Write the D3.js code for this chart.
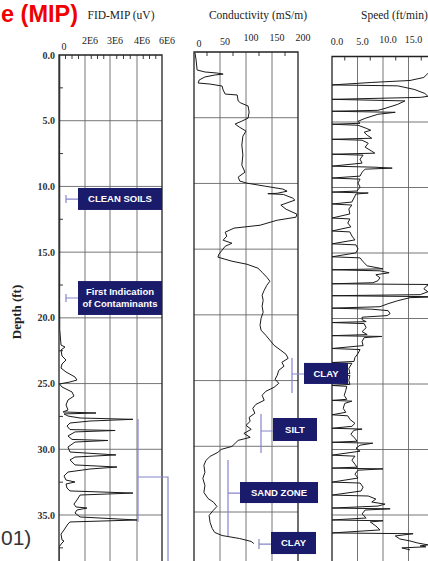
<!DOCTYPE html>
<html><head><meta charset="utf-8">
<script src="https://cdn.jsdelivr.net/npm/d3@7"></script>
<style>
html,body{margin:0;padding:0;background:#fff;}
svg{display:block;}
</style></head><body>
<svg id="chart" width="428" height="561"></svg>
<script>
// ---- data ----
const depthTicks = [0, 5, 10, 15, 20, 25, 30, 35];
const depthTickLabels = ["0.0", "5.0", "10.0", "15.0", "20.0", "25.0", "30.0", "35.0"];
const fidTicks = [0, 2e6, 3e6, 4e6, 6e6];
const fidTickLabels = ["0", "2E6", "3E6", "4E6", "6E6"];
const condTicks = [0, 50, 100, 150, 200];
const condTickLabels = ["0", "50", "100", "150", "200"];
const speedTicks = [0, 5, 10, 15, 20];
const speedTickLabels = ["0.0", "5.0", "10.0", "15.0"];

// [depth ft, FID response uV]
const fidData = [
  [0, 60000], [3.4, 60000], [7.2, 50000], [11.0, 60000], [14.8, 60000], [18.6, 50000],
  [20.9, 60000], [22.07, 154000], [22.22, 460000], [22.45, 154000], [22.9, 231000],
  [23.21, 540000], [23.51, 231000], [23.82, 154000], [24.12, 540000], [24.5, 1230000],
  [24.73, 1380000], [24.88, 846000], [25.03, 40000], [25.26, 231000], [25.64, 1000000],
  [25.95, 1150000], [26.25, 690000], [26.63, 540000], [27.01, 690000], [27.16, 310000],
  [27.24, 2440000], [27.31, 385000], [27.47, 690000], [27.62, 1620000], [27.72, 3850000],
  [27.85, 2200000], [28.0, 846000], [28.23, 615000], [28.5, 846000], [28.57, 3190000],
  [28.68, 1230000], [28.99, 690000], [29.25, 1000000], [29.33, 2920000], [29.45, 1230000],
  [29.83, 690000], [30.21, 846000], [30.43, 3220000], [30.59, 1230000], [30.81, 846000],
  [31.19, 1230000], [31.35, 3260000], [31.5, 2200000], [31.73, 690000], [32.03, 385000],
  [32.34, 540000], [32.49, 1230000], [32.64, 540000], [32.95, 615000], [33.17, 846000],
  [33.33, 3850000], [33.48, 1620000], [33.86, 1380000], [34.17, 1150000], [34.39, 1310000],
  [34.47, 2080000], [34.62, 1380000], [34.85, 1230000], [35.15, 1620000], [35.38, 4000000],
  [35.53, 846000], [35.68, 692000], [36.14, 385000], [36.45, 154000], [36.9, 231000],
  [36.98, 385000], [37.13, 231000], [37.43, 0], [38.6, 0]
];

// [depth ft, conductivity mS/m]
const condData = [
  [0.08, 2], [0.61, 4], [1.37, 6], [1.52, 21], [1.60, 44], [1.68, 56], [1.75, 40],
  [1.90, 21], [2.13, 10], [2.36, 8], [2.44, 31], [2.59, 54], [2.89, 56], [3.20, 60],
  [3.27, 83], [3.73, 85], [3.88, 90], [4.11, 104], [4.57, 106], [5.03, 104], [5.26, 92],
  [5.48, 79], [5.71, 87], [6.02, 100], [6.40, 94], [7.08, 92], [7.84, 94], [8.61, 92],
  [9.14, 98], [9.52, 85], [9.82, 88], [9.98, 102], [10.21, 137], [10.43, 171],
  [10.59, 179], [10.75, 160], [10.78, 142], [10.84, 172], [11.12, 190], [11.27, 194],
  [11.65, 167], [11.96, 177], [12.34, 198], [12.57, 196], [12.80, 160], [13.18, 127],
  [13.40, 77], [13.71, 60], [14.01, 63], [14.32, 56], [14.55, 73], [14.78, 60],
  [15.08, 54], [15.38, 48], [15.61, 46], [15.92, 73], [16.15, 102], [16.45, 123],
  [16.76, 131], [17.14, 140], [17.44, 146], [17.75, 140], [18.13, 135], [18.51, 131],
  [18.89, 133], [19.34, 131], [19.80, 133], [20.26, 129], [20.79, 127], [21.17, 129],
  [21.55, 138], [21.93, 146], [22.32, 154], [22.70, 167], [23.00, 177], [23.31, 181],
  [23.61, 169], [23.91, 173], [24.22, 163], [24.60, 160], [24.90, 156], [25.21, 163],
  [25.51, 154], [25.82, 138], [26.12, 131], [26.50, 135], [26.81, 119], [27.11, 113],
  [27.49, 117], [27.80, 106], [28.10, 108], [28.41, 100], [28.71, 110], [29.02, 96],
  [29.32, 108], [29.55, 85], [29.78, 79], [30.01, 73], [30.24, 52], [30.46, 46],
  [30.77, 31], [31.07, 23], [31.45, 19], [31.99, 21], [32.44, 17], [32.98, 21],
  [33.51, 19], [33.97, 27], [34.27, 38], [34.58, 44], [34.88, 37], [35.26, 29],
  [35.80, 31], [36.25, 35], [36.56, 40], [36.79, 54], [37.02, 88], [37.24, 110], [37.40, 115]
];

// [depth ft, push speed ft/min]
const speedData = [
  [0.15, 21.2], [0.99, 20.4], [1.29, 18.8], [1.60, 18.0], [1.83, 15.3], [1.98, 7.8],
  [2.17, 0], [2.24, 12.9], [2.36, 14.3], [2.51, 16.1], [2.82, 18.2], [3.04, 18.8],
  [3.12, 17.3], [3.27, 0], [3.39, 14.3], [3.65, 12.9], [3.96, 10.4], [4.11, 9.0],
  [4.18, 0], [4.26, 12.4], [4.41, 9.0], [4.72, 6.5], [4.95, 5.1], [5.10, 5.5],
  [5.17, 0], [5.25, 5.1], [5.48, 6.7], [5.63, 7.6], [5.78, 6.3], [6.01, 6.9], [6.24, 7.8],
  [6.32, 0], [6.39, 5.9], [6.62, 7.1], [6.92, 6.5], [7.23, 7.8], [7.38, 8.4],
  [7.46, 0], [7.53, 6.1], [7.84, 5.5], [8.14, 5.9],
  [8.37, 0], [8.45, 8.4], [8.52, 11.8], [8.60, 6.5], [8.83, 5.9], [9.13, 5.5],
  [9.28, 0], [9.36, 5.5], [9.66, 5.1], [9.97, 5.5], [10.27, 4.9],
  [10.35, 0], [10.42, 7.1], [10.50, 4.7], [10.80, 4.3], [11.11, 3.9],
  [11.26, 0], [11.34, 3.9], [11.64, 3.3], [12.02, 3.5],
  [12.33, 0], [12.40, 3.5], [12.71, 3.1], [13.01, 3.7],
  [13.32, 0], [13.39, 3.5], [13.70, 3.9], [14.00, 4.5],
  [14.30, 0], [14.38, 4.7], [14.68, 5.1], [14.99, 4.7],
  [15.29, 0], [15.37, 5.5], [15.67, 6.1], [15.98, 6.9], [16.21, 10.0],
  [16.28, 0], [16.36, 9.4], [16.51, 11.2], [16.66, 8.6], [16.89, 9.4], [17.12, 9.0], [17.27, 8.0],
  [17.35, 0], [17.41, 21.2], [17.50, 18.6], [17.73, 18.0], [17.96, 18.8], [18.18, 17.3],
  [18.26, 0], [18.34, 21.2], [18.41, 15.3], [18.64, 12.9], [18.87, 11.0], [19.10, 9.4],
  [19.21, 0], [19.29, 7.8], [19.40, 11.0], [19.63, 11.4], [19.78, 10.8], [19.90, 5.9],
  [20.09, 5.9], [20.24, 6.7],
  [20.31, 0], [20.39, 6.3], [20.70, 6.7], [21.00, 5.9], [21.23, 6.9],
  [21.31, 0], [21.37, 9.8], [21.46, 6.3], [21.76, 5.9], [22.07, 6.1],
  [22.29, 0], [22.37, 5.5], [22.67, 5.1], [22.98, 4.5], [23.28, 4.3],
  [23.36, 0], [23.43, 3.9], [23.81, 3.3], [24.20, 3.5],
  [24.27, 0], [24.35, 3.5], [24.73, 3.3], [25.03, 3.5],
  [25.11, 0], [25.18, 2.9], [25.49, 2.7], [25.87, 2.4], [26.17, 2.9],
  [26.25, 0], [26.31, 3.9], [26.48, 2.5], [26.86, 2.2], [27.16, 2.7],
  [27.35, 0], [27.43, 3.1], [27.70, 3.5], [28.00, 4.5], [28.23, 3.9],
  [28.38, 0], [28.44, 5.9], [28.53, 4.3], [28.84, 3.7], [29.14, 4.5], [29.37, 4.9],
  [29.45, 0], [29.52, 8.0], [29.67, 5.5], [29.90, 4.7], [30.13, 5.5],
  [30.43, 0], [30.51, 4.5], [30.81, 3.9], [31.12, 4.5], [31.35, 4.9],
  [31.42, 0], [31.48, 10.0], [31.58, 5.1], [31.88, 4.5], [32.18, 5.1],
  [32.49, 0], [32.56, 5.5], [32.87, 6.1], [33.17, 5.7],
  [33.48, 0], [33.55, 7.1], [33.78, 8.6], [34.01, 7.8], [34.17, 10.4], [34.32, 9.0],
  [34.47, 0], [34.53, 11.4], [34.62, 6.5], [34.92, 5.9], [35.23, 6.7],
  [35.38, 0], [35.44, 10.0], [35.53, 7.5], [35.84, 8.6], [36.14, 9.4],
  [36.37, 0], [36.43, 15.9], [36.60, 12.4], [36.83, 13.3], [36.98, 15.3], [37.13, 16.7],
  [37.28, 18.8], [37.36, 17.3], [37.43, 18.4], [37.51, 13.7], [37.66, 15.3]
];

// soil / contamination callouts
const calloutLabels = [
  ["CLEAN SOILS"],
  ["First Indication", "of Contaminants"],
  ["CLAY"],
  ["SILT"],
  ["SAND ZONE"],
  ["CLAY"]
];

// ---- layout ----
const W = 428, H = 561;
const svg = d3.select("#chart");
svg.append("rect").attr("width", W).attr("height", H).attr("fill", "#fff");

const serif = "'Liberation Serif','Times New Roman',serif";
const sans = "'Liberation Sans',Arial,Helvetica,sans-serif";
const frameColor = "#222";
const gridColor = "#666";
const curveColor = "#1a1a1a";
const bottom = H + 10;

const panels = [
  {
    id: "fid",
    title: "FID-MIP (uV)", titleX: 121, titleAnchor: "middle",
    x: d3.scaleLinear().domain(fidTicks).range([59, 85, 110, 137, 162]),
    y: d3.scaleLinear().domain([0, 35]).range([55, 515]),
    ticks: fidTicks, labels: fidTickLabels, labelY: [50, 44, 44, 44, 44],
    minorPerGap: 3, data: fidData, rightEdge: true
  },
  {
    id: "cond",
    title: "Conductivity (mS/m)", titleX: 258, titleAnchor: "middle",
    x: d3.scaleLinear().domain([0, 200]).range([194, 298]),
    y: d3.scaleLinear().domain([0, 35]).range([52, 512]),
    ticks: condTicks, labels: condTickLabels, labelY: [47, 45, 41, 41, 40.5],
    minorPerGap: 1, data: condData, rightEdge: true
  },
  {
    id: "speed",
    title: "Speed (ft/min)", titleX: 361, titleAnchor: "start",
    x: d3.scaleLinear().domain([0, 20]).range([332, 434]),
    y: d3.scaleLinear().domain([0, 35]).range([56.5, 515]),
    ticks: speedTicks, labels: speedTickLabels, labelY: [45, 45, 43, 43],
    minorPerGap: 1, data: speedData, rightEdge: true
  }
];

const defs = svg.append("defs");

panels.forEach(p => {
  const g = svg.append("g").attr("class", "panel-" + p.id);
  const [x0, x1] = [p.x(p.ticks[0]), p.x(p.ticks[p.ticks.length - 1])];
  const top = p.y(0);

  defs.append("clipPath").attr("id", "clip-" + p.id)
    .append("rect").attr("x", x0).attr("y", top).attr("width", x1 - x0).attr("height", bottom - top);

  // horizontal depth grid
  g.selectAll("line.hgrid").data(depthTicks.slice(1).concat([40])).join("line")
    .attr("x1", x0).attr("x2", x1)
    .attr("y1", d => p.y(d)).attr("y2", d => p.y(d))
    .attr("stroke", gridColor).attr("stroke-width", 0.9);

  // vertical value grid
  g.selectAll("line.vgrid").data(p.ticks.slice(1, -1)).join("line")
    .attr("x1", d => p.x(d)).attr("x2", d => p.x(d))
    .attr("y1", top).attr("y2", bottom)
    .attr("stroke", gridColor).attr("stroke-width", 0.9);

  // minor ticks along the top edge
  const minor = [];
  for (let i = 0; i < p.ticks.length - 1; i++) {
    const a = p.ticks[i], b = p.ticks[i + 1];
    for (let k = 1; k <= p.minorPerGap; k++) minor.push(a + (b - a) * k / (p.minorPerGap + 1));
  }
  g.selectAll("line.minor").data(minor).join("line")
    .attr("x1", d => p.x(d)).attr("x2", d => p.x(d))
    .attr("y1", top).attr("y2", top + 4)
    .attr("stroke", frameColor).attr("stroke-width", 0.9);

  // curve
  g.append("path").datum(p.data)
    .attr("clip-path", `url(#clip-${p.id})`)
    .attr("fill", "none").attr("stroke", curveColor).attr("stroke-width", 1)
    .attr("stroke-linejoin", "round")
    .attr("d", d3.line().x(d => p.x(d[1])).y(d => p.y(d[0])));

  // frame
  g.append("path")
    .attr("d", `M${x0},${bottom}V${top}H${x1}` + (p.rightEdge ? `V${bottom}` : ""))
    .attr("fill", "none").attr("stroke", frameColor).attr("stroke-width", 1.3);

  // value tick labels
  g.selectAll("text.tick").data(p.labels).join("text")
    .attr("x", (d, i) => p.x(p.ticks[i]) + 5)
    .attr("y", (d, i) => p.labelY[i])
    .attr("text-anchor", "middle")
    .attr("font-family", serif).attr("font-size", 10).attr("fill", "#222")
    .text(d => d);

  // panel title
  g.append("text").attr("x", p.titleX).attr("y", 19)
    .attr("text-anchor", p.titleAnchor)
    .attr("font-family", serif).attr("font-size", 11.5).attr("fill", "#222")
    .text(p.title);
});

// depth axis on the first panel
const p0 = panels[0];
const depthAxis = svg.append("g");
depthAxis.selectAll("text").data(depthTicks).join("text")
  .attr("x", 55).attr("y", d => p0.y(d)).attr("dy", "0.35em")
  .attr("text-anchor", "end")
  .attr("font-family", serif).attr("font-size", 10).attr("font-weight", "bold").attr("fill", "#333")
  .text((d, i) => depthTickLabels[i]);
depthAxis.selectAll("line").data(d3.range(2.5, 40, 5)).join("line")
  .attr("x1", p0.x(0)).attr("x2", p0.x(0) + 4)
  .attr("y1", d => p0.y(d)).attr("y2", d => p0.y(d))
  .attr("stroke", frameColor).attr("stroke-width", 0.9);
svg.append("text")
  .attr("transform", `translate(21,${312}) rotate(-90)`)
  .attr("text-anchor", "middle")
  .attr("font-family", serif).attr("font-size", 13).attr("font-weight", "bold").attr("fill", "#222")
  .text("Depth (ft)");

// ---- callouts ----
const navy = "#1b1b6c";
const bracketColor = "#8585cc";
const yd = p0.y; // callout depths are placed on the first panel's depth scale

const callouts = [
  { box: [78, 162, 10.12, 11.79], cap: [66, 10.65, 11.26], mid: 10.96 },
  { box: [78, 162, 17.20, 19.78], cap: [66, 18.18, 18.79], mid: 18.49 },
  { box: [304, 348, 23.43, 25.03], cap: [292, 23.05, 25.72], mid: 24.27 },
  { box: [273, 317, 27.62, 29.37], cap: [261, 27.31, 30.28], mid: 28.61 },
  { box: [240, 318, 32.49, 34.09], cap: [228, 30.81, 36.60], mid: 33.33 },
  { box: [271, 316, 36.29, 37.97], cap: [259, 36.83, 37.59], mid: 37.21 }
];

// bracket spanning the contaminated interval in the FID panel
svg.append("path")
  .attr("d", `M138,${yd(27.70)}V${yd(35.53)}M138,${yd(32.11)}H168V${bottom}`)
  .attr("fill", "none").attr("stroke", bracketColor).attr("stroke-width", 1.2);

callouts.forEach((c, i) => {
  const g = svg.append("g");
  const [bx0, bx1, d0, d1] = c.box;
  g.append("path")
    .attr("d", `M${c.cap[0]},${yd(c.cap[1])}V${yd(c.cap[2])}M${c.cap[0]},${yd(c.mid)}H${bx0}`)
    .attr("fill", "none").attr("stroke", bracketColor).attr("stroke-width", 1.2);
  g.append("rect")
    .attr("x", bx0).attr("y", yd(d0)).attr("width", bx1 - bx0).attr("height", yd(d1) - yd(d0))
    .attr("fill", navy);
  const lines = calloutLabels[i];
  const cy = (yd(d0) + yd(d1)) / 2;
  lines.forEach((t, k) => {
    g.append("text")
      .attr("x", (bx0 + bx1) / 2)
      .attr("y", cy + (k - (lines.length - 1) / 2) * 12)
      .attr("dy", "0.36em")
      .attr("text-anchor", "middle")
      .attr("font-family", sans).attr("font-weight", "bold").attr("font-size", 9.5)
      .attr("fill", "#fff")
      .text(t);
  });
});

// ---- page captions ----
svg.append("text").attr("x", 1).attr("y", 22)
  .attr("text-anchor", "start")
  .attr("font-family", sans).attr("font-weight", "bold").attr("font-size", 23.5)
  .attr("fill", "#f00000")
  .text("e (MIP)");
svg.append("text").attr("x", 1).attr("y", 545)
  .attr("text-anchor", "start")
  .attr("font-family", sans).attr("font-size", 21)
  .attr("fill", "#333")
  .text("01)");
</script>
</body></html>
